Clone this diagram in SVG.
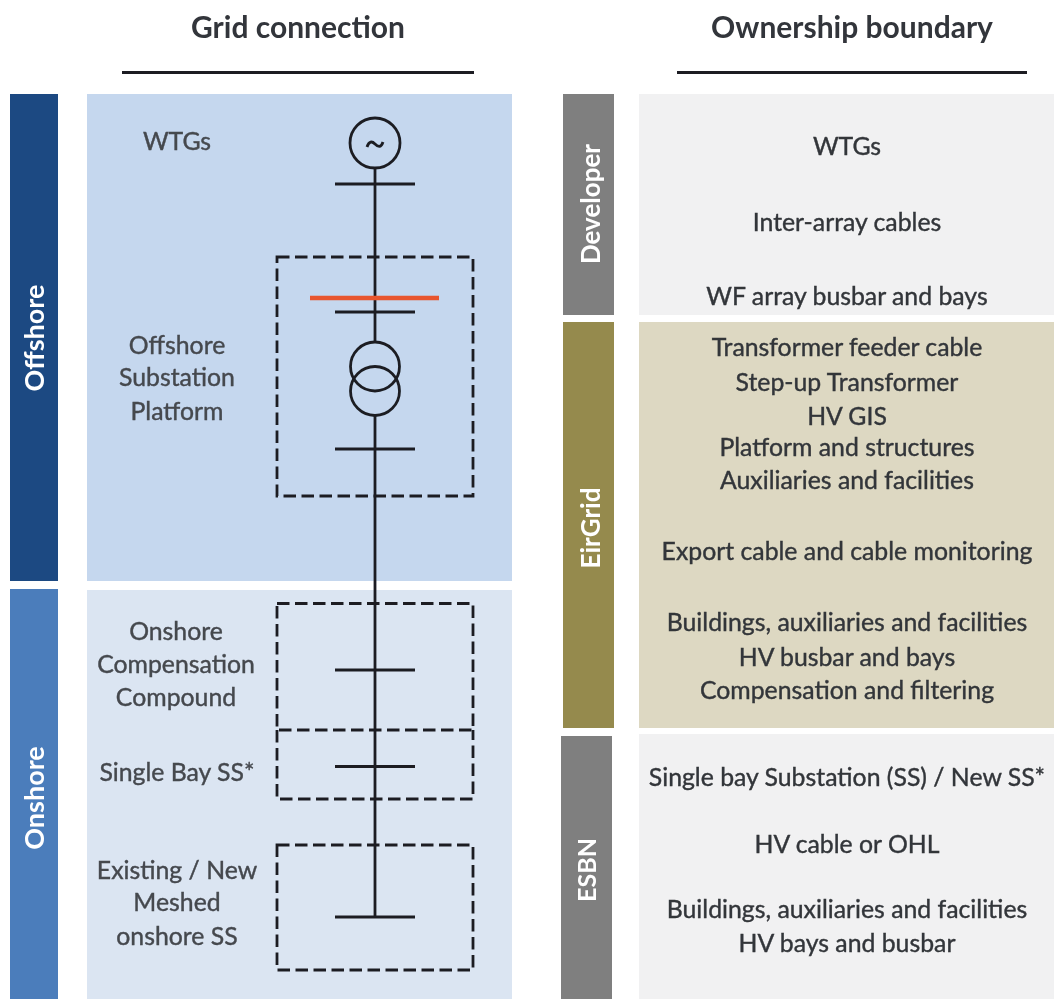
<svg xmlns="http://www.w3.org/2000/svg" width="1054" height="999" viewBox="0 0 1054 999">
<defs><filter id="soft" x="-5%" y="-5%" width="110%" height="110%"><feGaussianBlur stdDeviation="0.7"/></filter></defs>
<style>
text{font-family:Lato,"Open Sans","Liberation Sans",sans-serif;text-anchor:middle}
.h{font-size:30px;font-weight:700;fill:#33363b}
.l{font-size:24.800px;fill:#45484e;stroke:#45484e;stroke-width:0.400px}
.r{font-size:24.800px;fill:#33363a;stroke:#33363a;stroke-width:0.400px}
.b{font-size:27px;font-weight:700;fill:#fff}
.w{stroke:#1c1f24;stroke-width:2.800;fill:none}
.d{stroke:#1c1f24;stroke-width:2.800;fill:none;stroke-dasharray:12.500 5.500}
</style>
<rect width="1054" height="999" fill="#fff"/>
<g filter="url(#soft)">
<g id="headers">
<text class="h" x="298" y="38">Grid connection</text>
<text class="h" x="852" y="38">Ownership boundary</text>
<line class="w" x1="122" y1="72.500" x2="474" y2="72.500"/>
<line class="w" x1="677" y1="72.500" x2="1027" y2="72.500"/>
</g>
<g id="offshore">
<rect x="10" y="94" width="48" height="487" fill="#1d4a82"/>
<rect x="87" y="94" width="425" height="487" fill="#c5d7ee"/>
<text class="b" transform="translate(44 338) rotate(-90)">Offshore</text>
<text class="l" x="177" y="150">WTGs</text>
<text class="l" x="177" y="354">Offshore</text>
<text class="l" x="177" y="386">Substation</text>
<text class="l" x="177" y="420">Platform</text>
</g>
<g id="onshore">
<rect x="10" y="589" width="48" height="410" fill="#4b7dbb"/>
<rect x="87" y="590" width="425" height="409" fill="#dbe5f2"/>
<text class="b" transform="translate(44 798) rotate(-90)">Onshore</text>
<text class="l" x="176" y="640">Onshore</text>
<text class="l" x="176" y="673">Compensation</text>
<text class="l" x="176" y="706">Compound</text>
<text class="l" x="177" y="781">Single Bay SS*</text>
<text class="l" x="177" y="879">Existing / New</text>
<text class="l" x="177" y="911">Meshed</text>
<text class="l" x="177" y="945">onshore SS</text>
</g>
<g id="developer">
<rect x="563" y="94" width="51" height="221" fill="#7f7f7f"/>
<rect x="639" y="94" width="415" height="221" fill="#f1f1f2"/>
<text class="b" style="font-size:26px" transform="translate(600 204) rotate(-90)">Developer</text>
<text class="r" x="847" y="155">WTGs</text>
<text class="r" x="847" y="231">Inter-array cables</text>
<text class="r" x="847" y="305">WF array busbar and bays</text>
</g>
<g id="eirgrid">
<rect x="563" y="322" width="51" height="406" fill="#958a4d"/>
<rect x="639" y="322" width="415" height="406" fill="#ddd8c2"/>
<text class="b" style="font-size:26px" transform="translate(600 528) rotate(-90)">EirGrid</text>
<text class="r" x="847" y="356">Transformer feeder cable</text>
<text class="r" x="847" y="391">Step-up Transformer</text>
<text class="r" x="847" y="425">HV GIS</text>
<text class="r" x="847" y="456">Platform and structures</text>
<text class="r" x="847" y="489">Auxiliaries and facilities</text>
<text class="r" x="847" y="560">Export cable and cable monitoring</text>
<text class="r" x="847" y="631">Buildings, auxiliaries and facilities</text>
<text class="r" x="847" y="666">HV busbar and bays</text>
<text class="r" x="847" y="699">Compensation and filtering</text>
</g>
<g id="esbn">
<rect x="561" y="736" width="51" height="263" fill="#7f7f7f"/>
<rect x="639" y="734" width="415" height="265" fill="#f1f1f2"/>
<text class="b" style="font-size:25px" transform="translate(596 870) rotate(-90)">ESBN</text>
<text class="r" x="847" y="786">Single bay Substation (SS) / New SS*</text>
<text class="r" x="847" y="853">HV cable or OHL</text>
<text class="r" x="847" y="918">Buildings, auxiliaries and facilities</text>
<text class="r" x="847" y="952">HV bays and busbar</text>
</g>
<g id="connectors">
<line class="w" x1="375" y1="168" x2="375" y2="342"/>
<line class="w" x1="375" y1="415.500" x2="375" y2="917"/>
<line class="w" x1="335" y1="184" x2="415" y2="184"/>
<line class="w" x1="335" y1="312" x2="415" y2="312"/>
<line class="w" x1="335" y1="449" x2="415" y2="449"/>
<line class="w" x1="335" y1="670" x2="415" y2="670"/>
<line class="w" x1="335" y1="766.500" x2="415" y2="766.500"/>
<line class="w" x1="335" y1="917" x2="415" y2="917"/>
<line x1="310" y1="298" x2="439" y2="298" stroke="#e8552d" stroke-width="4.500"/>
</g>
<g id="generator">
<circle class="w" cx="375" cy="143" r="25"/>
<path class="w" d="M367 147 C369 141 372 141 375 144 C378 147 381 148 383 142"/>
</g>
<g id="transformer">
<circle class="w" cx="375" cy="366.500" r="24.500"/>
<circle class="w" cx="375" cy="391" r="24.500"/>
</g>
<g id="boundaries">
<rect class="d" x="277" y="257" width="196" height="239"/>
<rect class="d" x="277" y="603.500" width="196" height="126.500"/>
<path class="d" d="M277 730 V799 H473 V730"/>
<rect class="d" x="277" y="845" width="196" height="125"/>
</g>
</g>
</svg>
